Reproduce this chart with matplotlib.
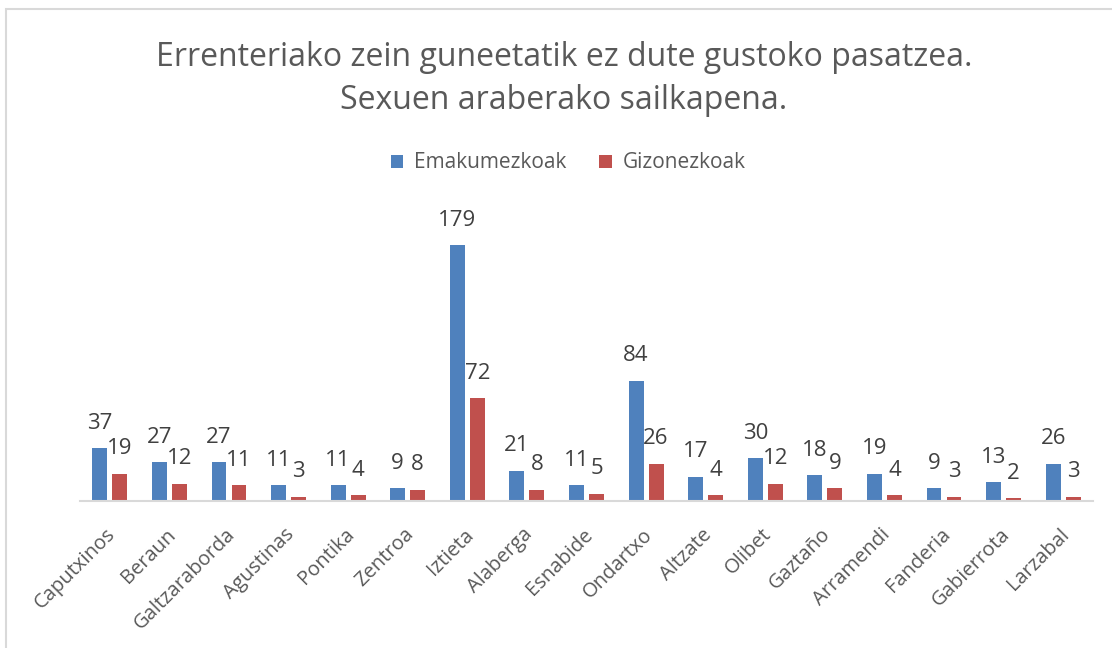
import matplotlib

matplotlib.use("Agg")
import matplotlib.pyplot as plt
import matplotlib.transforms as mtransforms
import numpy as np
from matplotlib.patches import Rectangle

plt.rcParams["font.family"] = ["Open Sans", "DejaVu Sans"]

title = "Errenteriako zein guneetatik ez dute gustoko pasatzea.\nSexuen araberako sailkapena."
series_names = ["Emakumezkoak", "Gizonezkoak"]
zones = [
    "Caputxinos", "Beraun", "Galtzaraborda", "Agustinas", "Pontika", "Zentroa",
    "Iztieta", "Alaberga", "Esnabide", "Ondartxo", "Altzate", "Olibet",
    "Gaztaño", "Arramendi", "Fanderia", "Gabierrota", "Larzabal",
]
women = [37, 27, 27, 11, 11, 9, 179, 21, 11, 84, 17, 30, 18, 19, 9, 13, 26]
men = [19, 12, 11, 3, 4, 8, 72, 8, 5, 26, 4, 12, 9, 4, 3, 2, 3]

colors = ["#4F81BD", "#C0504D"]
text_color = "#404040"

fig = plt.figure(figsize=(11.12, 6.48), dpi=100)
ax = fig.add_axes([80 / 1112, 147 / 648, 1013 / 1112, 286 / 648])

x = np.arange(len(zones))
width = 0.25
offset = 0.168
for vals, name, color, dx in [(women, series_names[0], colors[0], -offset),
                              (men, series_names[1], colors[1], offset)]:
    bars = ax.bar(x + dx, vals, width, color=color, label=name, zorder=2)
    for rect, v in zip(bars, vals):
        ax.annotate(str(v), (rect.get_x() + rect.get_width() / 2, rect.get_height()),
                    xytext=(0, 18), textcoords="offset points",
                    ha="center", va="center", fontsize=16, color=text_color)

ax.set_xlim(-0.5, len(zones) - 0.5)
ax.set_ylim(0, 200)
ax.set_yticks([])
for side in ["top", "right", "left"]:
    ax.spines[side].set_visible(False)
ax.spines["bottom"].set_color("#D9D9D9")
ax.spines["bottom"].set_linewidth(1.5)
ax.set_xticks(x)
ax.set_xticklabels(zones, rotation=45, ha="right", rotation_mode="anchor",
                   fontsize=14.5, color="#595959")
ax.tick_params(axis="x", length=0, pad=17)
shift = mtransforms.ScaledTranslation(-4 / 100, 0, fig.dpi_scale_trans)
for lbl in ax.get_xticklabels():
    lbl.set_transform(lbl.get_transform() + shift)

fig.text(564 / 1112, 1 - 79 / 648, title, ha="center", va="center",
         fontsize=23, color="#595959", linespacing=1.42)
fig.legend(loc="center", bbox_to_anchor=(568 / 1112, 1 - 163 / 648), ncol=2,
           frameon=False, fontsize=15, handlelength=0.6, handleheight=0.6,
           columnspacing=1.6, handletextpad=0.5, labelcolor="#595959")

fig.add_artist(Rectangle((6 / 1112, -0.1), 1.2, 1.1 - 9 / 648, transform=fig.transFigure,
                         fill=False, edgecolor="#D9D9D9", linewidth=1.5))

fig.savefig("out.png", dpi=100)
plt.close(fig)
